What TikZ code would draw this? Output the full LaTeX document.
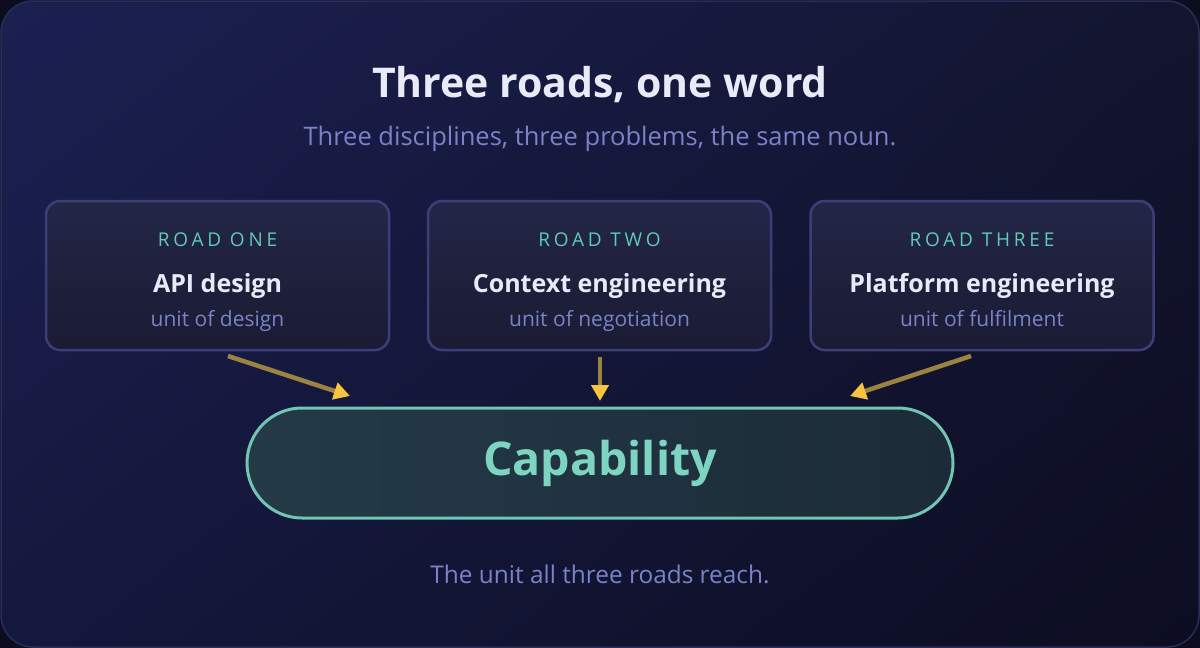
\documentclass[tikz,border=0pt]{standalone}
\usepackage{fontspec}
\setmainfont{Open Sans}
\newfontfamily\capsfont[LetterSpace=20]{Open Sans}
\usetikzlibrary{arrows.meta, shadings}

\definecolor{outerbg}{HTML}{0C0D1E}
\definecolor{bgtl}{HTML}{1B2052}
\definecolor{bgtr}{HTML}{13152F}
\definecolor{bgbl}{HTML}{15183D}
\definecolor{bgbr}{HTML}{0C0D21}
\definecolor{frame}{HTML}{2A2D58}
\definecolor{cardtop}{HTML}{232646}
\definecolor{cardbot}{HTML}{1A1B33}
\definecolor{cardline}{HTML}{3B3E78}
\definecolor{teal}{HTML}{5ECBB5}
\definecolor{capfill}{HTML}{243A47}
\definecolor{capfillr}{HTML}{1C2B38}
\definecolor{capline}{HTML}{72C4B3}
\definecolor{captext}{HTML}{7DD4C1}
\definecolor{titletext}{HTML}{E8EAF8}
\definecolor{softtext}{HTML}{7B82C8}
\definecolor{goldline}{HTML}{9C8342}
\definecolor{goldtip}{HTML}{F8C43F}

\begin{document}
\begin{tikzpicture}[x=1pt, y=-1pt,
      card/.style={rectangle, draw=cardline, line width=2.5pt, top color=cardtop, bottom color=cardbot, rounded corners=14pt, minimum width=343pt, minimum height=149pt},
      roadtag/.style={anchor=base, text=teal, font=\capsfont\fontsize{19}{22}\selectfont},
      roadname/.style={anchor=base, text=titletext, font=\fontsize{25}{30}\selectfont\bfseries},
      roadunit/.style={anchor=base, text=softtext, font=\fontsize{21}{25}\selectfont},
      line/.style={draw=goldline, line width=4.5pt, -{Triangle[length=16pt, width=17pt, color=goldtip, fill=goldtip]}}
      ]
    \useasboundingbox (0, 0) rectangle (1200, 648);
    \fill [outerbg] (0, 0) rectangle (1200, 648);
    \shade [rounded corners=32pt, upper left=bgtl, upper right=bgtr, lower left=bgbl, lower right=bgbr] (1, 1) rectangle (1199, 647);
    \draw [frame, line width=1.5pt, rounded corners=32pt] (1, 1) rectangle (1199, 647);

    \node [anchor=base, text=titletext, font=\fontsize{41}{48}\selectfont\bfseries] (title) at (600, 97) {Three roads, one word};
    \node [anchor=base, text=softtext, font=\fontsize{25.5}{30}\selectfont] (sub) at (600, 145) {Three disciplines, three problems, the same noun.};

    \node [card] (r1) at (217.5, 275.5) {};
    \node [roadtag] (r1t) at (217.5, 246) {ROAD ONE};
    \node [roadname] (r1n) at (217.5, 292) {API design};
    \node [roadunit] (r1u) at (217.5, 326) {unit of design};

    \node [card] (r2) at (599.5, 275.5) {};
    \node [roadtag] (r2t) at (599.5, 246) {ROAD TWO};
    \node [roadname] (r2n) at (599.5, 292) {Context engineering};
    \node [roadunit] (r2u) at (599.5, 326) {unit of negotiation};

    \node [card] (r3) at (982, 275.5) {};
    \node [roadtag] (r3t) at (982, 246) {ROAD THREE};
    \node [roadname] (r3n) at (982, 292) {Platform engineering};
    \node [roadunit] (r3u) at (982, 326) {unit of fulfilment};

    \node [draw=capline, line width=3pt, left color=capfill, right color=capfillr, rounded corners=55pt, minimum width=706pt, minimum height=110pt] (cap) at (600, 463) {};
    \node [anchor=base, text=captext, font=\fontsize{46.5}{56}\selectfont\bfseries] (capt) at (600, 475) {Capability};

    \coordinate (a1) at (228, 356);
    \coordinate (b1) at (350, 396);
    \coordinate (a2) at (600, 357);
    \coordinate (b2) at (600, 401);
    \coordinate (a3) at (971, 356);
    \coordinate (b3) at (850, 396);
    \path [line] (a1) -- (b1);
    \path [line] (a2) -- (b2);
    \path [line] (a3) -- (b3);

    \node [anchor=base, text=softtext, font=\fontsize{24.4}{29}\selectfont] (foot) at (600, 583) {The unit all three roads reach.};
  \end{tikzpicture}
\end{document}
